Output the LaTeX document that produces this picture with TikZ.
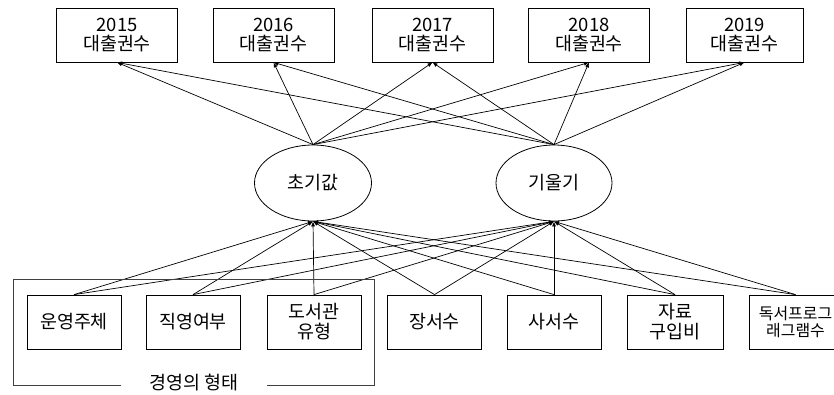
\documentclass[tikz,border=0pt]{standalone}
\usepackage{fontspec}
\setmainfont{Noto Sans CJK KR}
\usetikzlibrary{arrows.meta,shapes.geometric}
\begin{document}
\begin{tikzpicture}[x=1bp,y=-1bp,
  txt/.style={font=\fontsize{18.5}{20}\selectfont, align=center, inner sep=0pt},
  topbox/.style={txt, draw, line width=0.8bp, minimum width=121bp, minimum height=54bp},
  botbox/.style={txt, draw, line width=0.8bp, minimum width=94bp, minimum height=54bp},
  latent/.style={txt, draw, ellipse, line width=0.8bp, minimum width=117bp, minimum height=76bp},
  arr/.style={line width=0.7bp, -{Latex[length=5bp,width=4bp]}},
  grp/.style={line width=0.8bp, draw=black!75}
]
\useasboundingbox (0,0) rectangle (834,394);
% top boxes
\node[topbox] (y15) at (117,35) {2015\\대출권수};
\node[topbox] (y16) at (273.5,35) {2016\\대출권수};
\node[topbox] (y17) at (432.5,35) {2017\\대출권수};
\node[topbox] (y18) at (589,35) {2018\\대출권수};
\node[topbox, minimum width=117bp] (y19) at (744.5,35) {2019\\대출권수};
% latent
\node[latent] (ini) at (313,183) {초기값};
\node[latent, minimum width=116bp] (slo) at (554,183) {기울기};
% bottom boxes
\node[botbox] (b1) at (74,322) {운영주체};
\node[botbox] (b2) at (193,322) {직영여부};
\node[botbox] (b3) at (314,322) {도서관\\유형};
\node[botbox] (b4) at (434.5,322) {장서수};
\node[botbox] (b5) at (554,322) {사서수};
\node[botbox, minimum width=96bp] (b6) at (675,322) {자료\\구입비};
\node[botbox, minimum width=93bp, font=\fontsize{16}{18}\selectfont] (b7) at (795.5,322) {독서프로그\\래그램수};
% arrows to top
\foreach \t in {y15,y16,y17,y18,y19}{
  \draw[arr] (ini.north) -- (\t.south);
  \draw[arr] (slo.north) -- (\t.south);
}
% arrows from bottom
\foreach \b in {b1,b2,b3,b4,b5,b6,b7}{
  \draw[arr] (\b.north) -- (ini.south);
  \draw[arr] (\b.north) -- (slo.south);
}
% group bracket
\node[txt] (glab) at (194,383) {경영의 형태};
\coordinate (gl) at (121,385);
\coordinate (gr) at (267,385);
\draw[grp] (gl) -- (13,385) -- (13,279) -- (374,279) -- (374,385) -- (gr);
\end{tikzpicture}
\end{document}
